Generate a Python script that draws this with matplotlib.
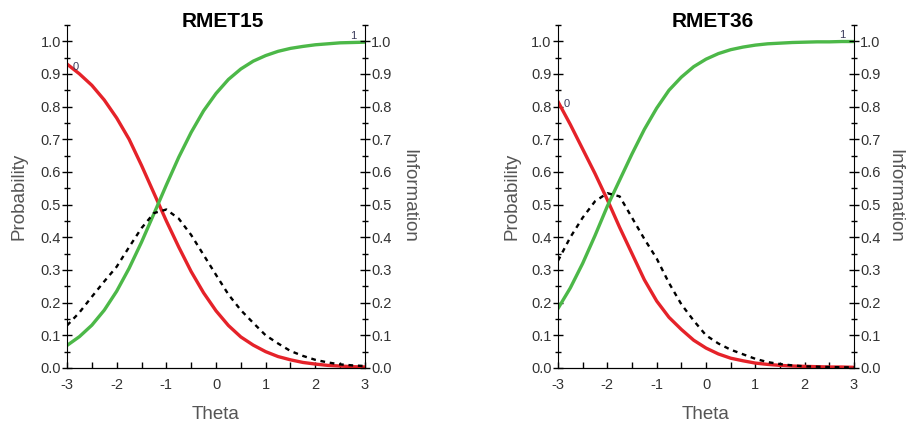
import matplotlib.pyplot as plt
import numpy as np
from matplotlib.ticker import FormatStrFormatter, MultipleLocator

plt.rcParams['font.family'] = ['Liberation Sans', 'DejaVu Sans']
plt.rcParams['axes.unicode_minus'] = False

theta = [-3.0, -2.75, -2.5, -2.25, -2.0, -1.75, -1.5, -1.25, -1.0, -0.75, -0.5, -0.25,
         0.0, 0.25, 0.5, 0.75, 1.0, 1.25, 1.5, 1.75, 2.0, 2.25, 2.5, 2.75, 3.0]

# RMET15
p0_15 = [0.93, 0.90, 0.865, 0.82, 0.765, 0.70, 0.62, 0.535, 0.45, 0.37, 0.295, 0.23,
         0.175, 0.13, 0.095, 0.07, 0.05, 0.035, 0.025, 0.017, 0.012, 0.008, 0.006, 0.004, 0.003]
p1_15 = [0.069, 0.096, 0.131, 0.177, 0.235, 0.305, 0.385, 0.472, 0.560, 0.645, 0.721, 0.787,
         0.840, 0.883, 0.915, 0.939, 0.956, 0.969, 0.978, 0.984, 0.989, 0.992, 0.995, 0.996, 0.997]
info_15 = [0.13, 0.17, 0.218, 0.265, 0.31, 0.37, 0.428, 0.474, 0.485, 0.457, 0.407, 0.346,
           0.285, 0.225, 0.177, 0.138, 0.10, 0.075, 0.052, 0.037, 0.025, 0.017, 0.011, 0.008, 0.006]

# RMET36
p0_36 = [0.815, 0.745, 0.67, 0.595, 0.515, 0.43, 0.35, 0.27, 0.205, 0.155, 0.118, 0.085,
         0.061, 0.043, 0.03, 0.022, 0.015, 0.011, 0.008, 0.006, 0.005, 0.004, 0.003, 0.003, 0.002]
p1_36 = [0.182, 0.245, 0.32, 0.405, 0.495, 0.575, 0.655, 0.73, 0.795, 0.85, 0.89, 0.922,
         0.945, 0.962, 0.974, 0.982, 0.988, 0.992, 0.994, 0.996, 0.997, 0.998, 0.998, 0.999, 0.999]
info_36 = [0.328, 0.40, 0.46, 0.51, 0.535, 0.525, 0.46, 0.395, 0.335, 0.26, 0.195, 0.145,
           0.10, 0.075, 0.056, 0.042, 0.028, 0.018, 0.012, 0.008, 0.005, 0.004, 0.003, 0.002, 0.002]

RED = '#e52229'
GREEN = '#4cb848'
TXT = '#333333'
LAB = '#555555'

fig = plt.figure(figsize=(9.07, 4.30), dpi=100)


def style_axis(a, side):
    a.set_xlim(-3, 3)
    a.set_ylim(0, 1.05)
    a.spines['top'].set_visible(False)
    a.yaxis.set_major_locator(MultipleLocator(0.1))
    a.yaxis.set_minor_locator(MultipleLocator(0.05))
    a.yaxis.set_major_formatter(FormatStrFormatter('%.1f'))
    a.tick_params(axis='y', which='major', direction='inout', length=7, width=1,
                  labelsize=10.5, labelcolor=TXT, pad=1)
    a.tick_params(axis='y', which='minor', direction='inout', length=5, width=1)
    if side == 'right':
        a.spines['left'].set_visible(False)
    else:
        a.spines['right'].set_visible(False)


def draw_panel(rect, title, title_x, p0, p1, info, ylab_x, info_x):
    ax = fig.add_axes(rect)
    ax.plot(theta, p0, color=RED, lw=2.4)
    ax.plot(theta, p1, color=GREEN, lw=2.4)
    ax.annotate('0', (theta[0], p0[0]), xytext=(4, -2), textcoords='offset points',
                color='#3a3a5a', fontsize=8, ha='left', va='center')
    ax.annotate('1', (theta[-1], p1[-1]), xytext=(-6, 1), textcoords='offset points',
                color='#3a3a5a', fontsize=8, ha='right', va='bottom')
    style_axis(ax, 'left')
    ax.xaxis.set_major_locator(MultipleLocator(1))
    ax.xaxis.set_minor_locator(MultipleLocator(0.5))
    ax.tick_params(axis='x', which='both', direction='in', length=4, width=1,
                   labelsize=10.5, labelcolor=TXT, pad=7)
    ax.set_xlabel('Theta', fontsize=13.5, color=LAB)
    ax.xaxis.set_label_coords(0.5, -0.11)
    ax.set_ylabel('Probability', fontsize=13.5, color=LAB)
    ax.yaxis.set_label_coords(ylab_x, 0.5)

    ax2 = ax.twinx()
    ax2.plot(theta, info, color='black', lw=1.7, ls=(0, (2, 2)))
    style_axis(ax2, 'right')
    ax2.set_ylabel('Information', fontsize=13.5, color=LAB, rotation=270, va='center')
    ax2.yaxis.set_label_coords(info_x, 0.5)

    fig.text(title_x, 0.937, title, fontsize=15, fontweight='bold',
             ha='center', va='baseline')


draw_panel([0.0739, 0.1442, 0.3285, 0.798], 'RMET15', 0.246, p0_15, p1_15, info_15,
           -0.131, 1.148)
draw_panel([0.6152, 0.1442, 0.3264, 0.798], 'RMET36', 0.786, p0_36, p1_36, info_36,
           -0.125, 1.138)

fig.savefig('out.png', dpi=100)
